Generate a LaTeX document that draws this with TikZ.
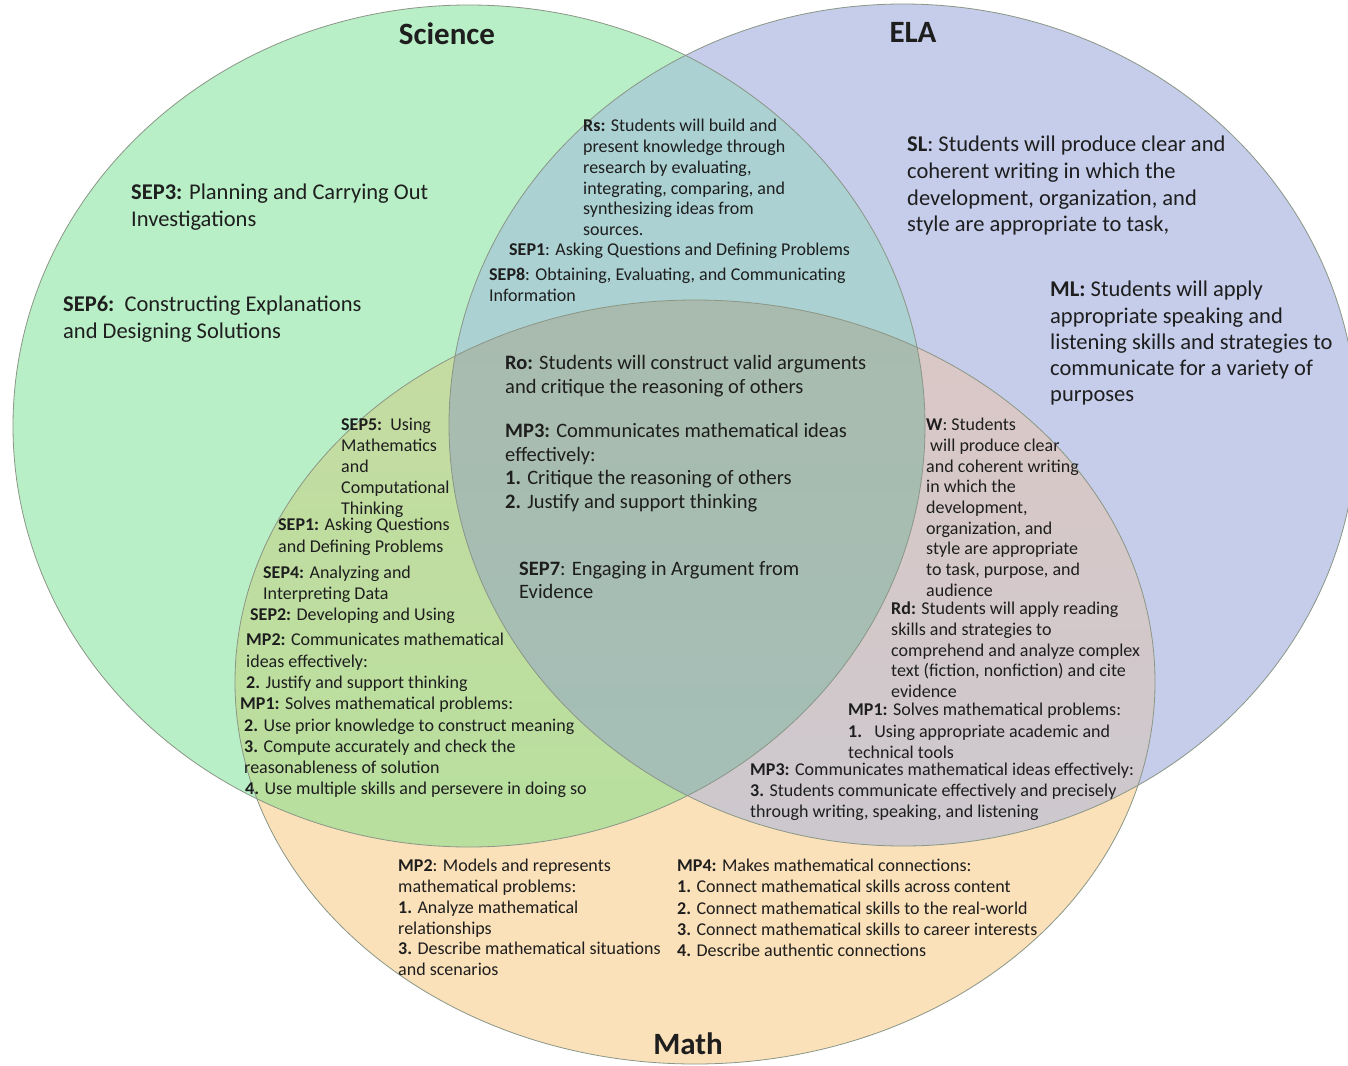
\documentclass[tikz,border=0pt]{standalone}
\usepackage{fontspec}
\setmainfont{Carlito}
\definecolor{txt}{HTML}{1E1E1E}
\definecolor{scicol}{HTML}{B9EFC7}
\definecolor{elacol}{HTML}{C5CDEA}
\definecolor{mathcol}{HTML}{FBE1B9}
\definecolor{scielacol}{HTML}{ABD1D2}
\definecolor{scimathtop}{HTML}{C6DBA2}
\definecolor{scimathbot}{HTML}{B2E19C}
\definecolor{elamathtop}{HTML}{DCC8C6}
\definecolor{elamathbot}{HTML}{C6C8D0}
\definecolor{alltop}{HTML}{A9BBAE}
\definecolor{allbot}{HTML}{A2C1BC}
\definecolor{edge}{HTML}{8A9686}
\begin{document}
\begin{tikzpicture}[x=1pt,y=-1pt,
  sciE/.style={insert path={(469,426) ellipse [x radius=456pt, y radius=421pt]}},
  elaE/.style={insert path={(903,425) ellipse [x radius=454pt, y radius=421pt]}},
  mathE/.style={insert path={(695,682) ellipse [x radius=460pt, y radius=382pt]}},
  lbl/.style={anchor=north west, inner sep=0pt, align=left, text=txt},
  big/.style={font=\fontsize{22.5}{26.5}\selectfont},
  mid/.style={font=\fontsize{20.5}{23.7}\selectfont},
  sml/.style={font=\fontsize{18}{21}\selectfont},
  ttl/.style={anchor=base, inner sep=0pt, text=txt, font=\fontsize{31}{36}\selectfont\bfseries}
]
\path[use as bounding box, fill=white] (0,0) rectangle (1348,1065);
% base fills
\fill[scicol, sciE];
\fill[elacol, elaE];
\fill[mathcol, mathE];
% pairwise overlaps
\begin{scope}
  \clip[sciE];
  \fill[scielacol, elaE];
\end{scope}
\begin{scope}
  \clip[sciE];
  \shade[top color=scimathtop, bottom color=scimathbot, mathE];
\end{scope}
\begin{scope}
  \clip[elaE];
  \shade[top color=elamathtop, bottom color=elamathbot, mathE];
\end{scope}
\begin{scope}
  \clip[sciE];
  \clip[elaE];
  \shade[top color=alltop, bottom color=allbot, mathE];
\end{scope}
% outlines
\draw[edge, line width=0.8pt, sciE];
\draw[edge, line width=0.8pt, elaE];
\draw[edge, line width=0.8pt, mathE];

% titles
\node[ttl] (tsci) at (447,45) {Science};
\node[ttl] (tela) at (913,42) {ELA};
\node[ttl] (tmath) at (688,1054) {Math};

% Science only
\node[lbl,big] (sep3) at (131,184) {\textbf{SEP3:} Planning and Carrying Out\\Investigations};
\node[lbl,font=\fontsize{22.5}{27}\selectfont] (sep6) at (63,296) {\textbf{SEP6:}\ \ Constructing Explanations\\and Designing Solutions};

% ELA only
\node[lbl,font=\fontsize{22.5}{26.7}\selectfont] (sl) at (907,136) {\textbf{SL}: Students will produce clear and\\coherent writing in which the\\development, organization, and\\style are appropriate to task,};
\node[lbl,font=\fontsize{22.5}{26.2}\selectfont] (ml) at (1050,281) {\textbf{ML:} Students will apply\\appropriate speaking and\\listening skills and strategies to\\communicate for a variety of\\purposes};

% Science & ELA
\node[lbl,font=\fontsize{18}{20.8}\selectfont] (rs) at (583,119) {\textbf{Rs:} Students will build and\\present knowledge through\\research by evaluating,\\integrating, comparing, and\\synthesizing ideas from\\sources.};
\node[lbl,sml] (sep1t) at (509,243) {\textbf{SEP1}: Asking Questions and Defining Problems};
\node[lbl,sml] (sep8) at (489,268) {\textbf{SEP8}: Obtaining, Evaluating, and Communicating\\Information};

% all three
\node[lbl,font=\fontsize{20.5}{24}\selectfont] (ro) at (505,355) {\textbf{Ro:} Students will construct valid arguments\\and critique the reasoning of others};
\node[lbl,mid] (mp3c) at (505,423) {\textbf{MP3:} Communicates mathematical ideas\\effectively:\\\textbf{1.} Critique the reasoning of others\\\textbf{2.} Justify and support thinking};
\node[lbl,font=\fontsize{20.5}{23}\selectfont] (sep7) at (519,561) {\textbf{SEP7}: Engaging in Argument from\\Evidence};

% Science & Math
\node[lbl,sml] (sep5) at (341,418) {\textbf{SEP5:}\ \ Using\\Mathematics\\and\\Computational\\Thinking};
\node[lbl,font=\fontsize{18}{22}\selectfont] (sep1l) at (278,518) {\textbf{SEP1:} Asking Questions\\and Defining Problems};
\node[lbl,font=\fontsize{18}{20.5}\selectfont] (sep4) at (263,566) {\textbf{SEP4:} Analyzing and\\Interpreting Data};
\node[lbl,sml] (sep2) at (250,608) {\textbf{SEP2:} Developing and Using};
\node[lbl,font=\fontsize{18}{21.5}\selectfont] (mp2l) at (246,633) {\textbf{MP2:} Communicates mathematical\\ideas effectively:\\\textbf{2.} Justify and support thinking};
\node[lbl,font=\fontsize{18}{21.3}\selectfont] (mp1l) at (240,697) {\textbf{MP1:} Solves mathematical problems:\\\hspace*{4pt}\textbf{2.} Use prior knowledge to construct meaning\\\hspace*{4pt}\textbf{3.} Compute accurately and check the\\\hspace*{4pt}reasonableness of solution\\\hspace*{5pt}\textbf{4.} Use multiple skills and persevere in doing so};

% ELA & Math
\node[lbl,font=\fontsize{18}{20.7}\selectfont] (w) at (926,418) {\textbf{W}: Students\\\hspace*{4pt}will produce clear\\and coherent writing\\in which the\\development,\\organization, and\\style are appropriate\\to task, purpose, and\\audience};
\node[lbl,font=\fontsize{18}{20.6}\selectfont] (rd) at (891,602) {\textbf{Rd:} Students will apply reading\\skills and strategies to\\comprehend and analyze complex\\text (fiction, nonfiction) and cite\\evidence};
\node[lbl,font=\fontsize{18}{21.5}\selectfont] (mp1r) at (848,703) {\textbf{MP1:} Solves mathematical problems:\\\textbf{1.}\ \ \ Using appropriate academic and\\technical tools};
\node[lbl,sml] (mp3r) at (750,763) {\textbf{MP3:} Communicates mathematical ideas effectively:\\\textbf{3.} Students communicate effectively and precisely\\through writing, speaking, and listening};

% Math only
\node[lbl,font=\fontsize{18}{20.8}\selectfont] (mp2b) at (398,859) {\textbf{MP2}: Models and represents\\mathematical problems:\\\textbf{1.} Analyze mathematical\\relationships\\\textbf{3.} Describe mathematical situations\\and scenarios};
\node[lbl,font=\fontsize{18}{21.2}\selectfont] (mp4) at (677,859) {\textbf{MP4:} Makes mathematical connections:\\\textbf{1.} Connect mathematical skills across content\\\textbf{2.} Connect mathematical skills to the real-world\\\textbf{3.} Connect mathematical skills to career interests\\\textbf{4.} Describe authentic connections};
\end{tikzpicture}
\end{document}
